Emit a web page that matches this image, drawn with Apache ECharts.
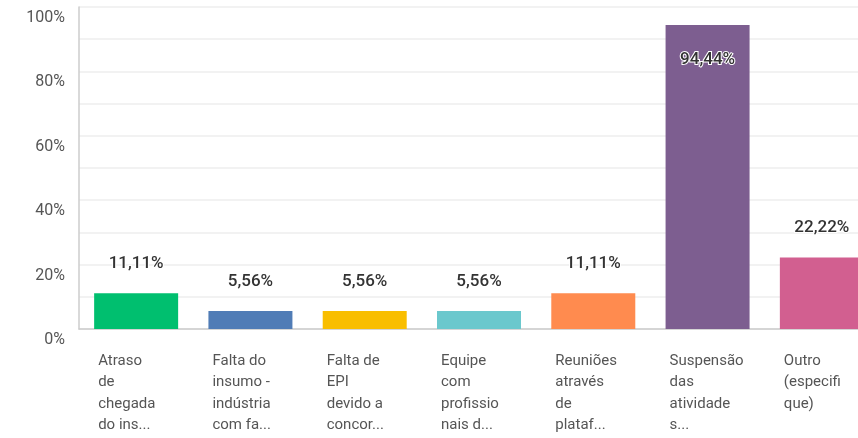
<!DOCTYPE html>
<html>
<head>
  <meta charset="UTF-8">
  <title>Chart</title>
  <style>
    html, body { margin: 0; padding: 0; background: #fff; }
    #chart { width: 858px; height: 438px; }
  </style>
</head>
<body>
  <div id="chart"></div>
  <script src="https://cdn.jsdelivr.net/npm/echarts@6/dist/echarts.min.js"></script>
  <script>
// data
const categories = [
  'Atraso\nde\nchegada\ndo ins...',
  'Falta do\ninsumo -\nindústria\ncom fa...',
  'Falta de\nEPI\ndevido a\nconcor...',
  'Equipe\ncom\nprofissio\nnais d...',
  'Reuniões\natravés\nde\nplataf...',
  'Suspensão\ndas\natividade\ns...',
  'Outro\n(especifi\nque)'
]
const values = [11.11, 5.56, 5.56, 5.56, 11.11, 94.44, 22.22]
const colors = ['#00bf6f', '#507cb6', '#f9be00', '#6bc8cd', '#ff8b4f', '#7d5e90', '#d25f90']

const chart = echarts.init(document.getElementById('chart'))
const fontFamily = 'Roboto, "Noto Sans", sans-serif'

chart.setOption({
  animation: false,
  grid: { left: 79, top: 7, width: 800, height: 322, outerBoundsMode: 'none', containLabel: false },
  xAxis: {
    type: 'category',
    data: categories,
    axisLine: { lineStyle: { color: '#cccccc', width: 1.5 } },
    axisTick: { show: false },
    axisLabel: {
      interval: 0,
      margin: 21,
      align: 'center',
      formatter: v => '{a|' + v + '}',
      rich: {
        a: { width: 76, align: 'left', fontSize: 15, lineHeight: 21.5, color: '#555', fontFamily }
      }
    }
  },
  yAxis: {
    type: 'value',
    min: 0,
    max: 100,
    interval: 10,
    axisLine: { show: true, lineStyle: { color: '#cccccc', width: 1.5 } },
    axisTick: { show: false },
    splitLine: { lineStyle: { color: '#eeeeee', width: 1.5 } },
    axisLabel: {
      margin: 14,
      verticalAlign: 'top',
      padding: [3, 0, 0, 0],
      fontSize: 16,
      color: '#555',
      fontFamily,
      formatter: v => (v % 20 === 0 ? v + '%' : '')
    }
  },
  series: [{
    type: 'bar',
    barCategoryGap: '26.5%',
    data: values.map((v, i) => ({
      value: v,
      itemStyle: { color: colors[i] },
      label: v > 85 ? { position: 'insideTop', distance: 26 } : { position: 'top', distance: 21 }
    })),
    label: {
      show: true,
      fontSize: 17,
      fontWeight: 500,
      color: '#333',
      fontFamily,
      textBorderColor: '#fff',
      textBorderWidth: 2,
      formatter: p => p.value.toFixed(2).replace('.', ',') + '%'
    }
  }]
})
  </script>
</body>
</html>
